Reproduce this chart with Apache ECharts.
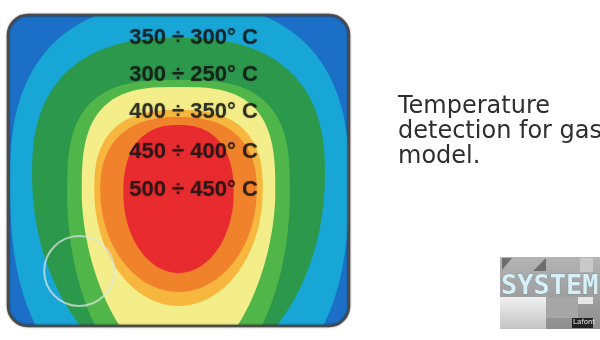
<!DOCTYPE html>
<html><head><meta charset="utf-8">
<script src="https://cdn.jsdelivr.net/npm/echarts@6/dist/echarts.min.js"></script>
<style>html,body{margin:0;padding:0;background:#fff}#c{width:600px;height:340px}</style>
</head><body><div id="c"></div>
<script>
// Plate extent (axis units)
const plateX = [0, 340];
const plateY = [0, 311];
const plateColor = '#1c6fc6';

// Temperature zones, outer to inner (axis units); each zone is a superellipse
// with separate upper / lower half-heights and exponents.
const zoneNames        = ['cyan', 'darkGreen', 'lightGreen', 'yellow', 'lightOrange', 'orange', 'red'];
const zoneCenterX      = [171, 170, 170, 170, 170, 170, 170];
const zoneCenterY      = [165, 160, 178, 178, 175, 175, 178];
const zoneRadiusX      = [169, 146, 111, 96.5, 84, 78, 55];
const zoneRadiusTop    = [177, 137, 113, 106, 80, 73, 68];
const zoneRadiusBottom = [225, 203, 200, 178, 116, 102, 80];
const zoneShapeTop     = [2.5, 2.5, 3, 3, 2.6, 2.4, 2.4];
const zoneShapeBottom  = [2.5, 2, 2, 1.8, 2, 2, 2];
const zoneColors       = ['#17a6d6', '#2c984c', '#50b64a', '#f3ee8a', '#f7b63e', '#f0822c', '#e82b2e'];

// Range labels
const zoneLabels = ['350 ÷ 300° C', '300 ÷ 250° C', '400 ÷ 350° C', '450 ÷ 400° C', '500 ÷ 450° C'];
const labelX = [185, 185, 185, 185, 185];
const labelY = [23, 60, 97, 137, 175];

// Highlight circle
const markerCircle = [71, 256];

const chart = echarts.init(document.getElementById('c'));
const CORNER = 20;

function plateRect(api) {
  const tl = api.coord([plateX[0], plateY[0]]);
  const br = api.coord([plateX[1], plateY[1]]);
  return {x: tl[0], y: tl[1], width: br[0] - tl[0], height: br[1] - tl[1], r: CORNER};
}

function renderZone(params, api) {
  const cx = api.value(0), cy = api.value(1), rx = api.value(2);
  const rTop = api.value(3), rBot = api.value(4), nTop = api.value(5), nBot = api.value(6);
  const pts = [];
  const N = 200;
  for (let i = 0; i < N; i++) {
    const t = i / N * Math.PI * 2;
    const c = Math.cos(t), s = Math.sin(t);
    const lower = s > 0;               // y axis is inverted: positive offset = lower on the plate
    const n = lower ? nBot : nTop;
    const ry = lower ? rBot : rTop;
    pts.push(api.coord([
      cx + rx * Math.sign(c) * Math.pow(Math.abs(c), 2 / n),
      cy + ry * Math.sign(s) * Math.pow(Math.abs(s), 2 / n)
    ]));
  }
  return {
    type: 'polygon',
    shape: {points: pts},
    style: {fill: zoneColors[params.dataIndex]},
    clipPath: {type: 'rect', shape: plateRect(api)}
  };
}

chart.setOption({
  animation: false,
  title: {
    text: 'Temperature\ndetection for gas\nmodel.',
    left: 393, top: 89,
    textStyle: {fontFamily: 'DejaVu Sans', fontWeight: 'normal', fontSize: 24, lineHeight: 25, color: '#2e2e2e'}
  },
  grid: {left: 8, top: 15, width: 341, height: 311},
  xAxis: {type: 'value', min: plateX[0], max: plateX[1], show: false},
  yAxis: {type: 'value', min: plateY[0], max: plateY[1], inverse: true, show: false},
  series: [
    {
      type: 'custom', z: 1, clip: false, silent: true,
      data: [[plateX[0], plateY[0], plateX[1], plateY[1]]],
      renderItem: (params, api) => ({type: 'rect', shape: plateRect(api), style: {fill: plateColor}})
    },
    {
      type: 'custom', z: 2, clip: false, silent: true,
      data: zoneNames.map((nm, i) => ({name: nm, value: [zoneCenterX[i], zoneCenterY[i], zoneRadiusX[i],
        zoneRadiusTop[i], zoneRadiusBottom[i], zoneShapeTop[i], zoneShapeBottom[i]]})),
      renderItem: renderZone
    },
    {
      type: 'custom', z: 3, clip: false, silent: true,
      data: [[plateX[0], plateY[0], plateX[1], plateY[1]]],
      renderItem: (params, api) => ({type: 'rect', shape: plateRect(api),
        style: {fill: 'none', stroke: '#4a4a4a', lineWidth: 2.5, shadowBlur: 2, shadowColor: 'rgba(0,0,0,0.5)'}})
    },
    {
      type: 'scatter', z: 4, silent: true,
      data: [markerCircle],
      symbol: 'circle', symbolSize: 70,
      itemStyle: {color: 'rgba(0,0,0,0)', borderColor: 'rgba(220,228,228,0.9)', borderWidth: 2}
    },
    {
      type: 'scatter', z: 5, silent: true,
      data: zoneLabels.map((t, i) => [labelX[i], labelY[i], t]),
      symbolSize: 1, itemStyle: {color: 'rgba(0,0,0,0)'},
      label: {
        show: true, position: 'inside', formatter: p => p.value[2],
        fontFamily: "'Liberation Sans',Arial,sans-serif",
        fontWeight: 'bold', fontSize: 22, color: '#141414',
        textShadowColor: 'rgba(0,0,0,0.45)', textShadowBlur: 1.5
      }
    }
  ],
  graphic: [
    {type: 'group', children: [
      {type: 'rect', shape: {x: 500, y: 257, width: 100, height: 72},
        style: {fill: new echarts.graphic.LinearGradient(0, 0, 0, 1, [{offset: 0, color: '#b4b4b4'}, {offset: 1, color: '#8e8e8e'}])}},
      {type: 'polygon', shape: {points: [[502, 258], [512, 258], [502, 270]]}, style: {fill: '#6e6e6e'}},
      {type: 'polygon', shape: {points: [[533, 271], [546, 258], [546, 271]]}, style: {fill: '#6e6e6e'}},
      {type: 'rect', shape: {x: 580, y: 258, width: 13, height: 14}, style: {fill: '#c9c9c9'}},
      {type: 'rect', shape: {x: 500, y: 297, width: 46, height: 32},
        style: {fill: new echarts.graphic.LinearGradient(0, 0, 0, 1, [{offset: 0, color: '#f0f0f0'}, {offset: 1, color: '#c4c4c4'}])}},
      {type: 'rect', shape: {x: 546, y: 297, width: 32, height: 21}, style: {fill: '#a6a6a6'}},
      {type: 'rect', shape: {x: 578, y: 297, width: 15, height: 7}, style: {fill: '#e6e6e6'}},
      {type: 'text', x: 501, y: 273,
        style: {text: 'SYSTEM', fontFamily: 'DejaVu Sans Mono', fontWeight: 'bold', fontSize: 27,
          fill: '#d6f0f8', stroke: '#6a7e86', lineWidth: 0.6, shadowColor: 'rgba(0,0,0,0.5)', shadowBlur: 2}},
      {type: 'rect', shape: {x: 572, y: 318, width: 21, height: 10}, style: {fill: '#222'}},
      {type: 'text', x: 573, y: 319, style: {text: 'Lafont', fontSize: 7, fill: '#eee', fontFamily: 'DejaVu Sans'}}
    ]}
  ]
});
</script></body></html>
